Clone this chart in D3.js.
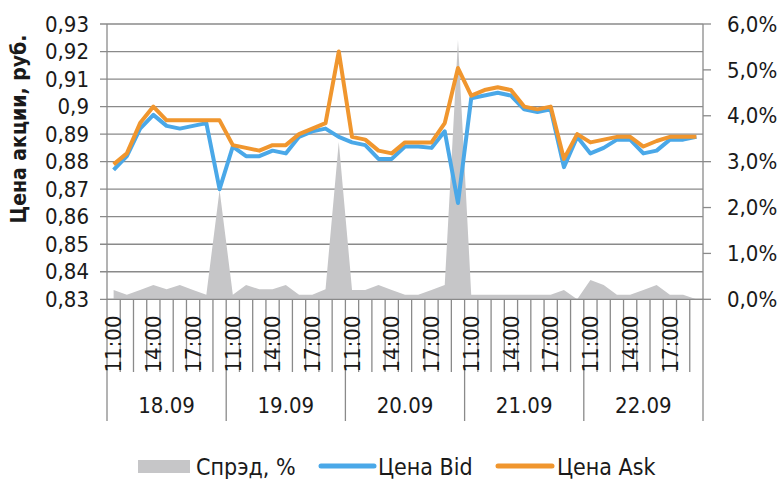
<!DOCTYPE html>
<html><head><meta charset="utf-8">
<script src="https://cdn.jsdelivr.net/npm/d3@7"></script>
<style>
body{margin:0;background:#fff;}
text{font-family:"Liberation Sans Narrow","Arial Narrow","DejaVu Sans Condensed",sans-serif;fill:#1a1a1a;}
</style></head>
<body><svg id="c" width="778" height="479"></svg>
<script>
const days = ["18.09","19.09","20.09","21.09","22.09"];
const hours = ["11:00","12:00","13:00","14:00","15:00","16:00","17:00","18:00","19:00"];
const bid = [
0.877,0.882,0.892,0.897,0.893,0.892,0.893,0.894,0.870,
0.8855,0.882,0.882,0.884,0.883,0.889,0.891,0.892,0.889,
0.887,0.886,0.881,0.881,0.8855,0.8855,0.885,0.891,0.865,
0.903,0.904,0.905,0.904,0.899,0.898,0.899,0.878,0.889,
0.883,0.885,0.888,0.888,0.883,0.884,0.888,0.888,0.889];
const ask = [
0.879,0.883,0.894,0.900,0.895,0.895,0.895,0.895,0.895,
0.886,0.885,0.884,0.886,0.886,0.890,0.892,0.894,0.920,
0.889,0.888,0.884,0.883,0.887,0.887,0.887,0.894,0.914,
0.904,0.906,0.907,0.906,0.900,0.899,0.900,0.881,0.890,
0.887,0.888,0.889,0.889,0.8855,0.8875,0.889,0.889,0.889];
const spread = [
0.20,0.10,0.20,0.31,0.22,0.31,0.20,0.10,2.38,
0.10,0.31,0.22,0.22,0.31,0.10,0.10,0.22,3.43,
0.20,0.20,0.31,0.20,0.10,0.10,0.20,0.31,5.65,
0.10,0.10,0.10,0.10,0.10,0.10,0.10,0.20,0.00,
0.42,0.31,0.10,0.10,0.20,0.31,0.10,0.10,0.00];
const leftTicks = [0.83,0.84,0.85,0.86,0.87,0.88,0.89,0.90,0.91,0.92,0.93];
const rightTicks = [0,1,2,3,4,5,6];
const yTitle = "Цена акции, руб.";
const legendLabels = ["Спрэд, %","Цена Bid","Цена Ask"];

const categories = [];
days.forEach(d => hours.forEach(h => categories.push({day:d, hour:h})));
const idx = d3.range(categories.length);

const svg = d3.select("#c");
const L = 107, R = 703, T = 24, B = 299.3;
const x = d3.scaleBand().domain(idx).range([L, R]).padding(0);
const bw = x.bandwidth();
const cx = i => x(i) + bw/2;
const yL = d3.scaleLinear().domain([0.83,0.93]).range([B,T]);
const yR = d3.scaleLinear().domain([0,6]).range([B,T]);
const gridC = "#8a8a8a";
const fs = 22;

// gridlines + left ticks
svg.append("g").selectAll("line").data(leftTicks).join("line")
  .attr("x1", L-7).attr("x2", R).attr("y1", d=>yL(d)).attr("y2", d=>yL(d))
  .attr("stroke", gridC).attr("stroke-width", 1.3);

// spread area
svg.append("path").datum(idx)
  .attr("d", d3.area().x(i=>cx(i)).y0(yR(0)).y1(i=>yR(spread[i])))
  .attr("fill", "#c6c6c8");

// axes lines
svg.append("line").attr("x1",L).attr("x2",L).attr("y1",T).attr("y2",B).attr("stroke",gridC).attr("stroke-width",1.3);
svg.append("line").attr("x1",R).attr("x2",R).attr("y1",T).attr("y2",B).attr("stroke",gridC).attr("stroke-width",1.3);
svg.append("line").attr("x1",L).attr("x2",R).attr("y1",B).attr("y2",B).attr("stroke",gridC).attr("stroke-width",1.3);
svg.append("g").selectAll("line").data(rightTicks).join("line")
  .attr("x1", R).attr("x2", R+8).attr("y1", d=>yR(d)).attr("y2", d=>yR(d))
  .attr("stroke", gridC).attr("stroke-width", 1.3);

// lines
const line = arr => d3.line().x(i=>cx(i)).y(i=>yL(arr[i]));
svg.append("path").datum(idx).attr("d", line(bid)).attr("fill","none")
  .attr("stroke","#4aa8e8").attr("stroke-width",4).attr("stroke-linejoin","round");
svg.append("path").datum(idx).attr("d", line(ask)).attr("fill","none")
  .attr("stroke","#f0962e").attr("stroke-width",4).attr("stroke-linejoin","round");

// left labels
const fmtL = d => String(+d.toFixed(2)).replace(".", ",");
svg.append("g").selectAll("text").data(leftTicks).join("text")
  .attr("x", 89).attr("y", d=>yL(d)).attr("dy","0.35em").attr("text-anchor","end")
  .attr("font-size", fs).text(fmtL);
svg.append("g").selectAll("text").data(rightTicks).join("text")
  .attr("x", 727).attr("y", d=>yR(d)).attr("dy","0.35em").attr("text-anchor","start")
  .attr("font-size", fs).text(d => d.toFixed(1).replace(".", ",") + "%");

// y title
svg.append("text").attr("transform","translate(26,129) rotate(-90)")
  .attr("text-anchor","middle").attr("font-size",21).attr("font-weight","bold").text(yTitle);

// category ticks
const bounds = d3.range(categories.length+1);
svg.append("g").selectAll("line").data(bounds).join("line")
  .attr("x1", i => i<categories.length ? x(i) : R).attr("x2", i => i<categories.length ? x(i) : R)
  .attr("y1", B).attr("y2", i => i % hours.length === 0 ? 421 : 372)
  .attr("stroke", gridC).attr("stroke-width", 1.3);

// hour labels every 3rd
svg.append("g").selectAll("text").data(idx.filter(i => i % 3 === 0)).join("text")
  .attr("transform", i => `translate(${cx(i)},344) rotate(-90)`)
  .attr("text-anchor","middle").attr("dy","0.35em").attr("font-size", fs)
  .text(i => categories[i].hour);

// day labels
svg.append("g").selectAll("text").data(days).join("text")
  .attr("x", (d,k) => (x(k*hours.length) + (k===days.length-1 ? R : x((k+1)*hours.length)))/2)
  .attr("y", 405).attr("dy","0.35em").attr("text-anchor","middle").attr("font-size", fs)
  .text(d => d);

// legend
const lg = svg.append("g");
lg.append("rect").attr("x",138).attr("y",460).attr("width",52).attr("height",13).attr("fill","#c6c6c8");
lg.append("text").attr("x",196).attr("y",467).attr("dy","0.35em").attr("font-size",23).text(legendLabels[0]);
lg.append("line").attr("x1",321).attr("x2",374).attr("y1",466).attr("y2",466).attr("stroke","#4aa8e8").attr("stroke-width",5).attr("stroke-linecap","round");
lg.append("text").attr("x",378).attr("y",467).attr("dy","0.35em").attr("font-size",23).text(legendLabels[1]);
lg.append("line").attr("x1",498).attr("x2",552).attr("y1",466).attr("y2",466).attr("stroke","#f0962e").attr("stroke-width",5).attr("stroke-linecap","round");
lg.append("text").attr("x",557).attr("y",467).attr("dy","0.35em").attr("font-size",23).text(legendLabels[2]);
</script></body></html>
